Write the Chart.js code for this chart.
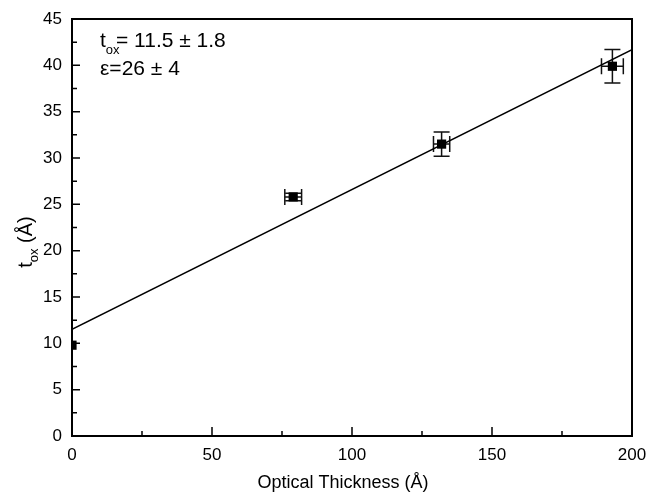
<!DOCTYPE html>
<html>
<head>
<meta charset="utf-8">
<script src="https://cdn.jsdelivr.net/npm/chart.js@4.4.1/dist/chart.umd.min.js"></script>
<style>
  html, body { margin: 0; padding: 0; background: #fff; }
</style>
</head>
<body>
<canvas id="chart" width="647" height="493"></canvas>
<script>
// measured points (optical thickness vs t_ox) with error bars
const opticalThickness = [0, 79, 132, 193];
const tox = [9.8, 25.8, 31.5, 39.9];
const xErr = [0, 3, 2.9, 3.9];
const yErr = [0, 0.4, 1.3, 1.8];

// linear fit
const fitX = [0, 200];
const fitY = [11.5, 41.7];

const xTicks = [0, 50, 100, 150, 200];
const yTicks = [0, 5, 10, 15, 20, 25, 30, 35, 40, 45];

const xTitle = 'Optical Thickness (Å)';
const yTitle = ['t', 'ox', ' (Å)'];
const fitLabel1 = ['t', 'ox', '= 11.5 ± 1.8'];
const fitLabel2 = 'ε=26 ± 4';

const FONT = '"Liberation Sans", Arial, sans-serif';

// error bars under the markers
const errorBars = {
  id: 'errorBars',
  beforeDatasetsDraw(chart) {
    const { ctx, scales: { x, y } } = chart;
    ctx.save();
    ctx.strokeStyle = '#111';
    ctx.lineWidth = 1.5;
    opticalThickness.forEach((v, i) => {
      const px = x.getPixelForValue(v);
      const py = y.getPixelForValue(tox[i]);
      if (xErr[i] > 0) {
        const l = x.getPixelForValue(v - xErr[i]);
        const r = x.getPixelForValue(v + xErr[i]);
        ctx.beginPath();
        ctx.moveTo(l, py); ctx.lineTo(r, py);
        ctx.moveTo(l, py - 8); ctx.lineTo(l, py + 8);
        ctx.moveTo(r, py - 8); ctx.lineTo(r, py + 8);
        ctx.stroke();
      }
      if (yErr[i] > 0) {
        const t = y.getPixelForValue(tox[i] + yErr[i]);
        const b = y.getPixelForValue(tox[i] - yErr[i]);
        ctx.beginPath();
        ctx.moveTo(px, t); ctx.lineTo(px, b);
        ctx.moveTo(px - 8, t); ctx.lineTo(px + 8, t);
        ctx.moveTo(px - 8, b); ctx.lineTo(px + 8, b);
        ctx.stroke();
      }
    });
    ctx.restore();
  }
};

// frame, inward ticks, titles and fit text
const decorations = {
  id: 'decorations',
  afterDraw(chart) {
    const { ctx, chartArea: a, scales: { x, y } } = chart;
    ctx.save();
    ctx.strokeStyle = '#000';
    ctx.lineWidth = 2;
    ctx.strokeRect(a.left, a.top, a.right - a.left, a.bottom - a.top);

    ctx.lineWidth = 1.5;
    ctx.beginPath();
    for (let v = 0; v <= 200; v += 25) {
      const px = x.getPixelForValue(v);
      const len = v % 50 === 0 ? 9 : 5;
      ctx.moveTo(px, a.bottom); ctx.lineTo(px, a.bottom - len);
    }
    for (let v = 0; v <= 45; v += 2.5) {
      const py = y.getPixelForValue(v);
      const len = v % 5 === 0 ? 8 : 5;
      ctx.moveTo(a.left, py); ctx.lineTo(a.left + len, py);
    }
    ctx.stroke();

    ctx.fillStyle = '#000';
    ctx.textBaseline = 'alphabetic';

    // x title
    ctx.font = '18px ' + FONT;
    ctx.textAlign = 'center';
    ctx.fillText(xTitle, 343, 488);

    // y title, rotated, with subscript
    ctx.save();
    ctx.translate(32, 242);
    ctx.rotate(-Math.PI / 2);
    ctx.textAlign = 'left';
    ctx.font = '20px ' + FONT;
    const w0 = ctx.measureText(yTitle[0]).width;
    const w2 = ctx.measureText(yTitle[2]).width;
    ctx.font = '13px ' + FONT;
    const w1 = ctx.measureText(yTitle[1]).width;
    let sx = -(w0 + w1 + w2) / 2;
    ctx.font = '20px ' + FONT;
    ctx.fillText(yTitle[0], sx, 0);
    ctx.font = '13px ' + FONT;
    ctx.fillText(yTitle[1], sx + w0, 6);
    ctx.font = '20px ' + FONT;
    ctx.fillText(yTitle[2], sx + w0 + w1, 0);
    ctx.restore();

    // fit result text
    ctx.textAlign = 'left';
    ctx.font = '21px ' + FONT;
    ctx.fillText(fitLabel1[0], 100, 47);
    const tw = ctx.measureText(fitLabel1[0]).width;
    ctx.font = '13px ' + FONT;
    ctx.fillText(fitLabel1[1], 100 + tw, 54);
    ctx.font = '21px ' + FONT;
    ctx.fillText(fitLabel1[2], 116, 47);
    ctx.fillText(fitLabel2, 100, 75);
    ctx.restore();
  }
};

new Chart(document.getElementById('chart'), {
  type: 'scatter',
  data: {
    datasets: [
      {
        type: 'line',
        data: fitX.map((v, i) => ({ x: v, y: fitY[i] })),
        borderColor: '#000',
        borderWidth: 1.5,
        pointRadius: 0,
        fill: false
      },
      {
        data: opticalThickness.map((v, i) => ({ x: v, y: tox[i] })),
        pointStyle: 'rect',
        pointRadius: 6.5,
        backgroundColor: '#000',
        borderColor: '#000',
        borderWidth: 0,
        clip: 0
      }
    ]
  },
  options: {
    responsive: false,
    animation: false,
    events: [],
    layout: { padding: { top: 19, right: 15, left: 0, bottom: 0 } },
    plugins: { legend: { display: false }, tooltip: { enabled: false } },
    scales: {
      x: {
        type: 'linear',
        min: 0,
        max: 200,
        grid: { display: false, drawTicks: false },
        border: { display: false },
        afterFit: s => { s.height = 57; s.paddingLeft = 0; s.paddingRight = 0; },
        afterBuildTicks: s => { s.ticks = xTicks.map(v => ({ value: v })); },
        ticks: { color: '#000', padding: 9, font: { family: FONT, size: 17 } }
      },
      y: {
        min: 0,
        max: 45,
        grid: { display: false, drawTicks: false },
        border: { display: false },
        afterFit: s => { s.width = 72; s.paddingTop = 0; s.paddingBottom = 0; },
        afterBuildTicks: s => { s.ticks = yTicks.map(v => ({ value: v })); },
        ticks: { color: '#000', padding: 10, font: { family: FONT, size: 17 } }
      }
    }
  },
  plugins: [errorBars, decorations]
});
</script>
</body>
</html>
